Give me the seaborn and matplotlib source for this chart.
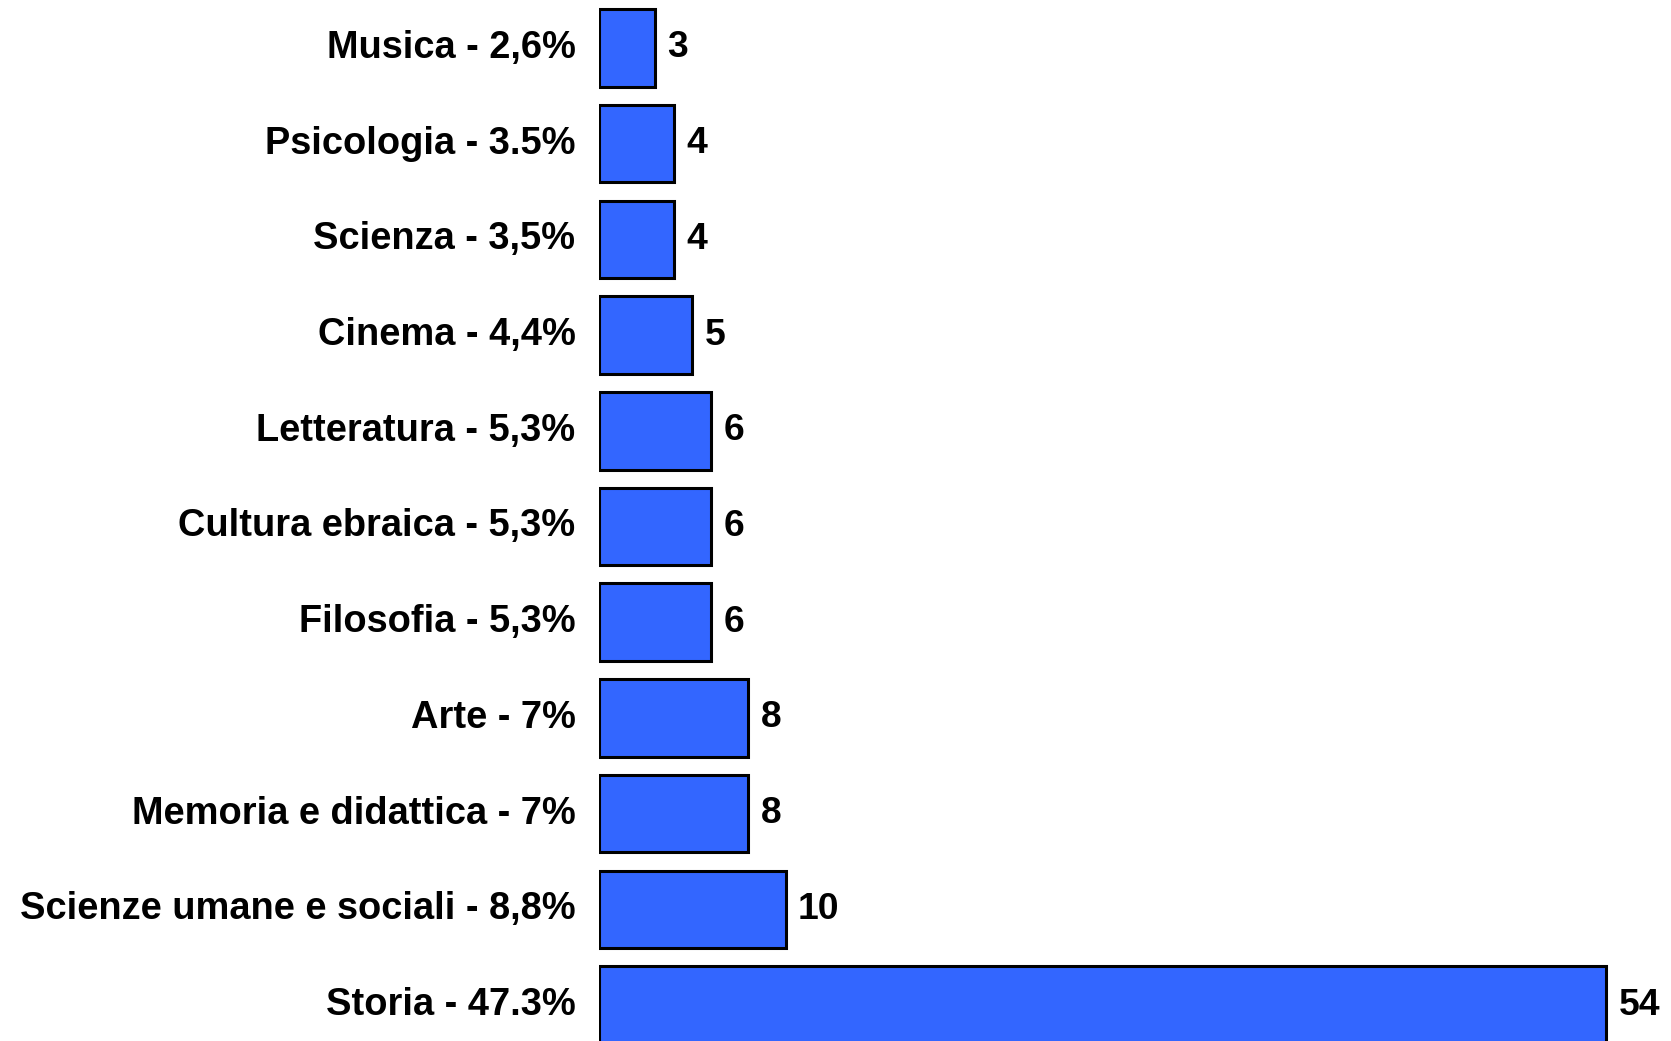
import matplotlib
matplotlib.use("Agg")
import matplotlib.pyplot as plt
import matplotlib.transforms as mtransforms
import seaborn as sns
import pandas as pd

categories = ["Musica", "Psicologia", "Scienza", "Cinema", "Letteratura",
              "Cultura ebraica", "Filosofia", "Arte", "Memoria e didattica",
              "Scienze umane e sociali", "Storia"]
percent_labels = ["2,6%", "3.5%", "3,5%", "4,4%", "5,3%", "5,3%", "5,3%",
                  "7%", "7%", "8,8%", "47.3%"]
counts = [3, 4, 4, 5, 6, 6, 6, 8, 8, 10, 54]

labels = [f"{c} - {p}" for c, p in zip(categories, percent_labels)]
df = pd.DataFrame({"label": labels, "count": counts})

sns.set_theme(style="white")
plt.rcParams['font.family'] = ['Liberation Sans', 'DejaVu Sans']

W, H = 1671, 1041
fig = plt.figure(figsize=(W / 100, H / 100), dpi=100)
fig.patch.set_facecolor("white")
ax = fig.add_axes([599 / W, 0, 1 - 599 / W, 1])

sns.barplot(data=df, x="count", y="label", orient="h", color="#3366FF",
            saturation=1, edgecolor="black", linewidth=2.2, width=0.81, ax=ax)

ax.set_xlim(0, (W - 599) / 18.65)
step = 95.7
ax.set_ylim((H - 48) / step, -48 / step)

ax.bar_label(ax.containers[0], labels=[str(v) for v in counts], padding=9,
             fontsize=26.8, fontweight="bold", color="black")

for s in ax.spines.values():
    s.set_visible(False)
ax.set_xlabel("")
ax.set_ylabel("")
ax.set_xticks([])
ax.tick_params(axis="y", length=0, pad=17)
shift = mtransforms.ScaledTranslation(0, 4 / 100, fig.dpi_scale_trans)
for t in ax.get_yticklabels():
    t.set_fontsize(27.35)
    t.set_fontweight("bold")
    t.set_color("black")
    t.set_transform(t.get_transform() + shift)

fig.savefig("out.png", dpi=100, facecolor="white")
